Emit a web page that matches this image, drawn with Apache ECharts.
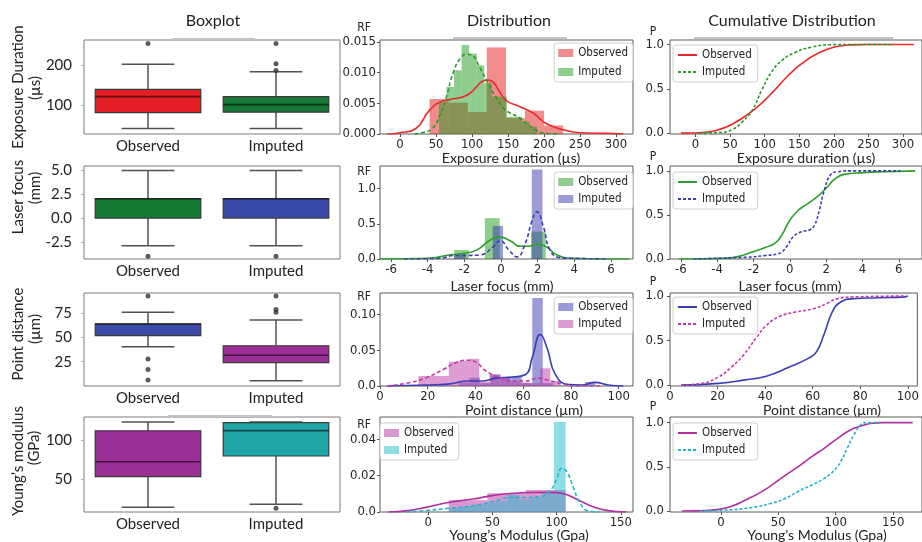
<!DOCTYPE html>
<html>
<head>
<meta charset="utf-8">
<script src="https://cdn.jsdelivr.net/npm/echarts@6/dist/echarts.min.js"></script>
<style>
  html, body { margin: 0; padding: 0; background: #fff; }
  #chart { width: 922px; height: 542px; }
</style>
</head>
<body>
<div id="chart"></div>
<script>
// ---------------- data ----------------
const boxCategories = ['Observed', 'Imputed'];

// Exposure duration (µs)
const expBoxObserved = [41, 81, 121, 139, 202];          // [low whisker, Q1, median, Q3, high whisker]
const expBoxImputed  = [41, 82, 101, 121, 183];
const expOutObserved = [254];
const expOutImputed  = [254, 203, 186];
const expHistObserved = [[41, 67.5, 0.0057], [67.5, 94, 0.0051], [94, 120.5, 0.0036], [120.5, 147, 0.0141],
  [147, 173.5, 0.0026], [173.5, 200, 0.0038], [200, 226.5, 0.0014]];
const expHistImputed = [[54, 64.5, 0.0051], [64.5, 75, 0.0077], [75, 85.5, 0.0104], [85.5, 96, 0.0145],
  [96, 106.5, 0.0131], [106.5, 117, 0.0112], [117, 127.5, 0.0083], [127.5, 138, 0.0061], [138, 148.5, 0.0061],
  [148.5, 159, 0.0028], [159, 169.5, 0.0028], [169.5, 180, 0.0020], [180, 190.5, 0.0012]];
const expKdeObserved = [[-18, 0], [0, 0.0002], [22, 0.0009], [41, 0.0039], [59, 0.0054], [73, 0.0057], [94, 0.0064],
  [122, 0.0088], [129, 0.0085], [147, 0.0055], [166, 0.0045], [185, 0.0034], [203, 0.0017], [227, 0.0007],
  [250, 0.0002], [287, 0.0001], [310, 0]];
const expKdeImputed = [[20, 0], [31, 0.0002], [45, 0.0009], [55, 0.003], [63, 0.0055], [75, 0.0104], [85, 0.0125],
  [92, 0.013], [99, 0.0129], [110, 0.011], [122, 0.0083], [136, 0.0055], [147, 0.0039], [166, 0.0026],
  [185, 0.0009], [203, 0.0001], [222, 0]];
const expCdfObserved = [[-21, 0], [15, 0.01], [34, 0.04], [53, 0.1], [77, 0.22], [96, 0.34], [115, 0.49], [134, 0.65],
  [153, 0.78], [177, 0.9], [201, 0.97], [225, 0.995], [249, 1], [316, 1]];
const expCdfImputed = [[5, 0], [34, 0.005], [53, 0.04], [68, 0.13], [82, 0.26], [96, 0.49], [110, 0.69], [125, 0.82],
  [144, 0.91], [168, 0.97], [196, 0.997], [225, 1], [284, 1]];
const expBoxTicks = [100, 200];
const expXTicks = [0, 50, 100, 150, 200, 250, 300];
const expDistYTicks = [0, 0.005, 0.010, 0.015];

// Laser focus (mm)
const laserBoxObserved = [-2.9, 0, 2.0, 2.05, 5.0];
const laserBoxImputed  = [-2.9, 0, 2.0, 2.05, 5.0];
const laserOutObserved = [-4.0];
const laserOutImputed  = [-4.0];
const laserHistObserved = [[-2.56, -1.75, 0.128], [-0.88, -0.07, 0.58], [1.64, 2.44, 0.39]];
const laserHistImputed  = [[-2.56, -1.93, 0.071], [-0.45, 0.11, 0.47], [1.68, 2.26, 1.27]];
const laserKdeObserved = [[-6.6, 0], [-4, 0.01], [-2.74, 0.06], [-2, 0.08], [-1.3, 0.13], [-0.58, 0.27], [-0.04, 0.31],
  [0.5, 0.26], [1.05, 0.18], [1.5, 0.18], [1.95, 0.21], [2.5, 0.17], [3.03, 0.06], [3.9, 0.01], [5.7, 0], [7.0, 0]];
const laserKdeImputed = [[-5.3, 0], [-3.3, 0.01], [-2.56, 0.05], [-1.93, 0.05], [-1.12, 0.06], [-0.4, 0.18],
  [-0.04, 0.26], [0.42, 0.13], [0.87, 0.03], [1.32, 0.22], [1.68, 0.53], [1.95, 0.67], [2.31, 0.46], [2.67, 0.13],
  [3.2, 0.02], [3.93, 0.01], [5.7, 0]];
const laserCdfObserved = [[-6.1, 0], [-3.5, 0.01], [-2.8, 0.03], [-2.08, 0.08], [-1.35, 0.13], [-0.81, 0.18],
  [-0.45, 0.27], [0, 0.44], [0.45, 0.55], [1.0, 0.63], [1.53, 0.71], [2.08, 0.82], [2.44, 0.9], [2.98, 0.96],
  [4.06, 0.98], [5.1, 0.99], [6.9, 1]];
const laserCdfImputed = [[-5.3, 0], [-2.4, 0.02], [-1.35, 0.04], [-0.63, 0.06], [-0.18, 0.14], [0.18, 0.25],
  [0.63, 0.31], [1.08, 0.33], [1.35, 0.38], [1.62, 0.55], [1.9, 0.78], [2.26, 0.96], [2.62, 0.99], [3.3, 1], [6.1, 1]];
const laserBoxTicks = [-2.5, 0, 2.5, 5];
const laserXTicks = [-6, -4, -2, 0, 2, 4, 6];
const laserDistYTicks = [0, 0.5, 1.0];

// Point distance (µm)
const pointBoxObserved = [40.5, 52, 64, 64, 76];
const pointBoxImputed  = [5.3, 24, 31.6, 41.5, 68];
const pointOutObserved = [93, 27.8, 17, 6];
const pointOutImputed  = [93, 79, 76];
const pointHistObserved = [[33, 37.4, 0.005], [37.4, 41.8, 0.0116], [41.8, 46.2, 0.004], [46.2, 50.6, 0.016],
  [50.6, 55, 0.0125], [55, 59.4, 0.0125], [59.4, 63.8, 0.004], [63.8, 68.2, 0.123], [68.2, 72.6, 0.004],
  [85.8, 90.2, 0.0056]];
const pointHistImputed = [[16.1, 20.35, 0.014], [20.35, 24.6, 0.014], [24.6, 28.85, 0.014], [28.85, 33.1, 0.034],
  [33.1, 37.35, 0.035], [37.35, 41.6, 0.038], [41.6, 45.85, 0.006], [45.85, 50.1, 0.016], [50.1, 54.35, 0.0116],
  [54.35, 58.6, 0.007], [58.6, 62.85, 0.005], [62.85, 67.1, 0.004], [67.1, 71.35, 0.0247], [71.35, 75.6, 0.007]];
const pointKdeObserved = [[3, 0], [19.6, 0.0014], [29.3, 0.003], [36.9, 0.007], [42.6, 0.007], [48.6, 0.011],
  [55.5, 0.0125], [61, 0.016], [63.8, 0.04], [67.2, 0.072], [70, 0.053], [73.5, 0.016], [79, 0.002], [84.5, 0.0014],
  [90, 0.005], [95.6, 0.0014], [102, 0]];
const pointKdeImputed = [[3, 0], [12.7, 0.005], [19.6, 0.012], [26.5, 0.023], [32, 0.033], [36.9, 0.036], [40.3, 0.033],
  [44.4, 0.021], [50, 0.012], [55.5, 0.007], [61, 0.007], [66.5, 0.011], [70.6, 0.008], [76.2, 0.003], [81.7, 0],
  [92.8, 0]];
const pointCdfObserved = [[4.7, 0], [20.3, 0.02], [31, 0.056], [40.5, 0.1], [50, 0.2], [58.1, 0.3], [61.5, 0.37],
  [64.9, 0.58], [68.2, 0.82], [71.6, 0.93], [77, 0.97], [87.8, 0.98], [98.6, 0.99], [100, 1]];
const pointCdfImputed = [[4.7, 0], [13.5, 0.02], [20.3, 0.09], [25.7, 0.2], [31, 0.34], [36.5, 0.54], [40.5, 0.67],
  [46, 0.77], [52.7, 0.82], [60.8, 0.86], [66.2, 0.92], [70.3, 0.97], [77, 0.99], [99.3, 1]];
const pointBoxTicks = [25, 50, 75];
const pointXTicks = [0, 20, 40, 60, 80, 100];
const pointDistYTicks = [0, 0.05, 0.10];

// Young's modulus (GPa)
const youngBoxObserved = [13.7, 53, 72.2, 111.9, 123];
const youngBoxImputed  = [17.6, 79.5, 112, 122.2, 123];
const youngOutObserved = [];
const youngOutImputed  = [12.4];
const youngHistObserved = [[16, 31, 0.0065], [31, 46, 0.0065], [46, 61, 0.0103], [61, 76, 0.0100],
  [76, 91, 0.0121], [91, 107, 0.0121]];
const youngHistImputed = [[16, 25.1, 0.002], [25.1, 34.2, 0.003], [34.2, 43.3, 0.004], [43.3, 52.4, 0.005],
  [52.4, 61.5, 0.006], [61.5, 70.6, 0.0095], [70.6, 79.7, 0.007], [79.7, 88.8, 0.008], [88.8, 97.9, 0.0105],
  [97.9, 107, 0.0495]];
const youngKdeObserved = [[-31, 0], [-17, 0.0006], [0, 0.0028], [15.6, 0.0052], [35, 0.0071], [50, 0.009],
  [66, 0.0103], [82, 0.0107], [97, 0.0108], [108, 0.0095], [118, 0.0062], [129, 0.0028], [139, 0.0009], [154.5, 0]];
const youngKdeImputed = [[-17, 0], [0, 0.0009], [14, 0.0019], [35, 0.0034], [53, 0.0062], [63.6, 0.008], [74, 0.008],
  [87, 0.0084], [95, 0.0118], [100, 0.018], [104, 0.024], [108, 0.022], [113, 0.0136], [118, 0.0052],
  [124.7, 0.0006], [134, 0]];
const youngCdfObserved = [[-34, 0], [-13, 0.004], [-1.4, 0.02], [10, 0.057], [21.4, 0.125], [33, 0.2], [44, 0.29],
  [55.7, 0.4], [67, 0.5], [78.6, 0.61], [90, 0.71], [101.4, 0.82], [113, 0.92], [121.4, 0.96], [130, 0.99],
  [141, 1], [167, 1]];
const youngCdfImputed = [[-18.6, 0], [4.3, 0.01], [27, 0.04], [44, 0.087], [55.7, 0.14], [67, 0.22], [78.6, 0.29],
  [90, 0.37], [98.6, 0.46], [104.3, 0.56], [110, 0.71], [115.7, 0.86], [121.4, 0.97], [127, 1], [138.6, 1]];
const youngBoxTicks = [50, 100];
const youngXTicks = [0, 50, 100, 150];
const youngDistYTicks = [0, 0.02, 0.04];

const cdfYTicks = [0, 0.5, 1.0];

// ---------------- layout & styling ----------------
const UI_FONT = 'Lato, "Open Sans", sans-serif';
const NARROW_FONT = '"Liberation Sans Narrow", "DejaVu Sans Condensed", "Arial Narrow", sans-serif';

const ROWS = [{ top: 40, h: 94 }, { top: 166, h: 93 }, { top: 293, h: 93 }, { top: 417, h: 95 }];
const COLS = [{ left: 84, w: 256 }, { left: 380, w: 253 }, { left: 670, w: 256 }];

const fix = d => v => (v === 0 ? (d === 3 ? '0.000' : '0.0') : v.toFixed(d));

const PANELS = [
  {
    key: 'exp', xName: 'Exposure duration (µs)', yName: ['Exposure Duration', '(µs)'], yNameY: [87, 88], yNameX: [18, 35],
    box: [expBoxObserved, expBoxImputed], out: [expOutObserved, expOutImputed], boxRange: [27.5, 262.5],
    boxTicks: expBoxTicks, boxFmt: v => String(v), boxColors: ['#e31e24', '#167a36'],
    hist: [expHistObserved, expHistImputed], kde: [expKdeObserved, expKdeImputed], cdf: [expCdfObserved, expCdfImputed],
    distX: [-27.9, 323.6], distY: [0, 0.01533], distYTicks: expDistYTicks, distYFmt: fix(3), xTicks: expXTicks,
    cdfX: [-37, 327.5], cdfY: [-0.01, 1.05],
    line: ['#e8282a', '#2a9a2a'], bar: ['rgba(228,26,28,0.5)', 'rgba(30,155,30,0.5)'],
    distLegend: { right: 289, top: 43, gap: 5 }, cdfLegend: { top: 45, gap: 3 },
    rfY: 28, pY: 32, xNameY: 158, xNameX: [511, 806]
  },
  {
    key: 'laser', xName: 'Laser focus (mm)', yName: ['Laser focus', '(mm)'], yNameY: [197, 188], yNameX: [18, 35],
    box: [laserBoxObserved, laserBoxImputed], out: [laserOutObserved, laserOutImputed], boxRange: [-4.3, 5.46],
    boxTicks: laserBoxTicks, boxFmt: v => v.toFixed(1), boxColors: ['#167a36', '#3b4aa8'],
    hist: [laserHistObserved, laserHistImputed], kde: [laserKdeObserved, laserKdeImputed], cdf: [laserCdfObserved, laserCdfImputed],
    distX: [-6.6, 7.2], distY: [0, 1.32], distYTicks: laserDistYTicks, distYFmt: fix(1), xTicks: laserXTicks,
    cdfX: [-6.6, 7.28], cdfY: [0, 1.055],
    line: ['#2ca02c', '#3a3db5'], bar: ['rgba(30,155,30,0.5)', 'rgba(55,55,175,0.5)'],
    distLegend: { right: 289, top: 172, gap: 3 }, cdfLegend: { top: 172, gap: 3 },
    rfY: 172, pY: 157, xNameY: 286, xNameX: [502, 790]
  },
  {
    key: 'point', xName: 'Point distance (µm)', yName: ['Point distance', '(µm)'], yNameY: [334, 329], yNameX: [18, 35],
    box: [pointBoxObserved, pointBoxImputed], out: [pointOutObserved, pointOutImputed], boxRange: [-0.1, 96],
    boxTicks: pointBoxTicks, boxFmt: v => String(v), boxColors: ['#3b4aa8', '#9b2f96'],
    hist: [pointHistObserved, pointHistImputed], kde: [pointKdeObserved, pointKdeImputed], cdf: [pointCdfObserved, pointCdfImputed],
    distX: [0, 106], distY: [0, 0.13], distYTicks: pointDistYTicks, distYFmt: fix(2), xTicks: pointXTicks,
    cdfX: [0, 104], cdfY: [-0.01, 1.034],
    line: ['#3a3db5', '#c23aa8'], bar: ['rgba(55,55,175,0.5)', 'rgba(190,60,165,0.5)'],
    distLegend: { right: 289, top: 297, gap: 3 }, cdfLegend: { top: 297, gap: 3 },
    rfY: 297, pY: 282, xNameY: 410, xNameX: [524, 822]
  },
  {
    key: 'young', xName: 'Young\u2019s Modulus (Gpa)', yName: ['Young\u2019s modulus', '(GPa)'], yNameY: [461, 448], yNameX: [18, 34],
    box: [youngBoxObserved, youngBoxImputed], out: [youngOutObserved, youngOutImputed], boxRange: [7.7, 129.5],
    boxTicks: youngBoxTicks, boxFmt: v => String(v), boxColors: ['#9b2f96', '#20a6a6'],
    hist: [youngHistObserved, youngHistImputed], kde: [youngKdeObserved, youngKdeImputed], cdf: [youngCdfObserved, youngCdfImputed],
    distX: [-37.6, 159.5], distY: [0, 0.0522], distYTicks: youngDistYTicks, distYFmt: fix(2), xTicks: youngXTicks,
    cdfX: [-44.3, 175.1], cdfY: [-0.011, 1.064],
    line: ['#b0309f', '#1fb5c8'], bar: ['rgba(180,50,160,0.5)', 'rgba(30,190,205,0.5)'],
    distLegend: { left: 380, top: 423, gap: 3 }, cdfLegend: { top: 423, gap: 3 },
    rfY: 425, pY: 407, xNameY: 535, xNameX: [519, 817]
  }
];

// ---------------- renderers ----------------
function renderBox(params, api) {
  const idx = api.value(0);
  const band = api.size([1, 0])[0];
  const bw = band * 0.825, cw = bw * 0.5;
  const pLo = api.coord([idx, api.value(1)]);
  const pQ1 = api.coord([idx, api.value(2)]);
  const pMed = api.coord([idx, api.value(3)]);
  const pQ3 = api.coord([idx, api.value(4)]);
  const pHi = api.coord([idx, api.value(5)]);
  const x = pQ1[0];
  const wStyle = { stroke: '#505050', lineWidth: 1.5 };
  return {
    type: 'group',
    children: [
      { type: 'line', shape: { x1: x, y1: pHi[1], x2: x, y2: pQ3[1] }, style: wStyle },
      { type: 'line', shape: { x1: x, y1: pQ1[1], x2: x, y2: pLo[1] }, style: wStyle },
      { type: 'line', shape: { x1: x - cw / 2, y1: pHi[1], x2: x + cw / 2, y2: pHi[1] }, style: wStyle },
      { type: 'line', shape: { x1: x - cw / 2, y1: pLo[1], x2: x + cw / 2, y2: pLo[1] }, style: wStyle },
      { type: 'rect', shape: { x: x - bw / 2, y: pQ3[1], width: bw, height: pQ1[1] - pQ3[1] },
        style: { fill: api.visual('color'), stroke: '#3a3a3a', lineWidth: 1.2 } },
      { type: 'line', shape: { x1: x - bw / 2, y1: pMed[1], x2: x + bw / 2, y2: pMed[1] },
        style: { stroke: 'rgba(0,0,0,0.55)', lineWidth: 1.6 } }
    ]
  };
}

function renderHist(params, api) {
  const a = api.coord([api.value(0), api.value(2)]);
  const b = api.coord([api.value(1), 0]);
  return {
    type: 'rect',
    shape: { x: a[0], y: a[1], width: b[0] - a[0], height: b[1] - a[1] },
    style: { fill: api.visual('color') }
  };
}

// ---------------- option assembly ----------------
const grid = [], xAxis = [], yAxis = [], series = [], legend = [], graphic = [];

const tickLabel = { fontFamily: NARROW_FONT, fontSize: 13, color: '#262626' };

function valueAxis(gi, range, ticks, fmt, extra) {
  return Object.assign({
    type: 'value', gridIndex: gi, min: range[0], max: range[1],
    splitLine: { show: false }, axisLine: { show: false, onZero: false },
    axisTick: { show: true, length: 3, inside: false, customValues: ticks, lineStyle: { color: '#555' } },
    axisLabel: Object.assign({ customValues: ticks, formatter: fmt, margin: 4 }, tickLabel)
  }, extra || {});
}

const nameOf = n => n.split('-').pop();

PANELS.forEach((p, r) => {
  const row = ROWS[r];
  COLS.forEach((c, k) => {
    grid.push({
      left: c.left, top: row.top, width: c.w, height: row.h,
      show: true, borderColor: k === 0 ? '#7a7a7a' : '#5a5a5a', borderWidth: 1, backgroundColor: 'transparent'
    });
  });
  const gBox = r * 3, gDist = r * 3 + 1, gCdf = r * 3 + 2;

  // ---- boxplot panel
  xAxis.push({
    type: 'category', gridIndex: gBox, data: boxCategories, boundaryGap: true,
    axisLine: { show: false, onZero: false }, axisTick: { show: false }, splitLine: { show: false },
    axisLabel: { fontFamily: UI_FONT, fontSize: 15, color: '#222', margin: 5 }
  });
  yAxis.push(valueAxis(gBox, p.boxRange, p.boxTicks, p.boxFmt, {
    axisTick: { show: true, length: 3, customValues: p.boxTicks, lineStyle: { color: '#aaa' } },
    axisLabel: { customValues: p.boxTicks, formatter: p.boxFmt, margin: 12, fontFamily: UI_FONT, fontSize: 15, color: '#222' }
  }));
  series.push({
    type: 'custom', xAxisIndex: gBox, yAxisIndex: gBox, renderItem: renderBox, z: 2,
    encode: { x: 0, y: [1, 2, 3, 4, 5] },
    data: p.box.map((b, i) => ({ value: [i].concat(b), itemStyle: { color: p.boxColors[i] } }))
  });
  const outliers = [];
  p.out.forEach((list, i) => list.forEach(v => outliers.push([i, v])));
  series.push({
    type: 'scatter', xAxisIndex: gBox, yAxisIndex: gBox, data: outliers, symbolSize: 5, z: 3,
    itemStyle: { color: '#333' }, silent: true
  });

  // ---- distribution panel
  xAxis.push(valueAxis(gDist, p.distX, p.xTicks, v => String(v)));
  yAxis.push(valueAxis(gDist, p.distY, p.distYTicks, p.distYFmt));
  const distNames = [p.key + '-dist-Observed', p.key + '-dist-Imputed'];
  [0, 1].forEach(i => {
    series.push({
      type: 'custom', name: distNames[i], xAxisIndex: gDist, yAxisIndex: gDist, renderItem: renderHist,
      encode: { x: [0, 1], y: 2 }, itemStyle: { color: p.bar[i] }, data: p.hist[i], z: 2 + i, clip: true
    });
  });
  [0, 1].forEach(i => {
    series.push({
      type: 'line', xAxisIndex: gDist, yAxisIndex: gDist, data: p.kde[i], smooth: 0.5,
      symbol: 'none', z: 5, clip: true,
      lineStyle: { color: p.line[i], width: 1.6, type: i === 0 ? 'solid' : [4, 2.5] }
    });
  });
  legend.push(Object.assign({
    orient: 'vertical', padding: [3, 5, 3, 4], itemGap: p.distLegend.gap, itemWidth: 15, itemHeight: 8,
    backgroundColor: 'rgba(255,255,255,0.85)', borderColor: '#cfcfcf', borderWidth: 1, borderRadius: 3,
    selectedMode: false, formatter: nameOf,
    textStyle: { fontFamily: NARROW_FONT, fontSize: 11.5, color: '#222', lineHeight: 14 },
    data: distNames.map((n, i) => ({ name: n, icon: 'rect', itemStyle: { color: p.bar[i], borderWidth: 0 } }))
  }, p.distLegend.right !== undefined ? { right: p.distLegend.right } : { left: p.distLegend.left }, { top: p.distLegend.top }));

  // ---- cumulative panel
  xAxis.push(valueAxis(gCdf, p.cdfX, p.xTicks, v => String(v)));
  yAxis.push(valueAxis(gCdf, p.cdfY, cdfYTicks, fix(1), {
    axisLabel: Object.assign({ customValues: cdfYTicks, formatter: fix(1), margin: 6 }, tickLabel)
  }));
  const cdfNames = [p.key + '-cdf-Observed', p.key + '-cdf-Imputed'];
  [0, 1].forEach(i => {
    series.push({
      type: 'line', name: cdfNames[i], xAxisIndex: gCdf, yAxisIndex: gCdf, data: p.cdf[i], smooth: 0.5,
      symbol: 'none', z: 4 + i, clip: true,
      itemStyle: { color: p.line[i] },
      lineStyle: { color: p.line[i], width: 1.6, type: i === 0 ? 'solid' : [3, 2] }
    });
  });
  legend.push({
    orient: 'vertical', left: 673, top: p.cdfLegend.top, padding: [3, 6, 3, 4], itemGap: p.cdfLegend.gap,
    itemWidth: 19, itemHeight: 14,
    backgroundColor: 'rgba(255,255,255,0.85)', borderColor: '#cfcfcf', borderWidth: 1, borderRadius: 3,
    selectedMode: false, formatter: nameOf,
    textStyle: { fontFamily: NARROW_FONT, fontSize: 11.5, color: '#222', lineHeight: 14 },
    // line-only key: the marker dot is made fully transparent
    data: cdfNames.map(n => ({ name: n, itemStyle: { opacity: 0 } }))
  });

  // ---- axis titles
  graphic.push(
    { type: 'text', x: p.yNameX[0], y: p.yNameY[0], rotation: Math.PI / 2,
      style: { text: p.yName[0], font: '15px ' + UI_FONT, fill: '#222', textAlign: 'center', textVerticalAlign: 'middle' } },
    { type: 'text', x: p.yNameX[1], y: p.yNameY[1], rotation: Math.PI / 2,
      style: { text: p.yName[1], font: '15px ' + UI_FONT, fill: '#222', textAlign: 'center', textVerticalAlign: 'middle' } },
    { type: 'text', x: 364, y: p.rfY,
      style: { text: 'RF', font: '12px ' + NARROW_FONT, fill: '#222', textAlign: 'center', textVerticalAlign: 'middle' } },
    { type: 'text', x: 653, y: p.pY,
      style: { text: 'P', font: '12px ' + NARROW_FONT, fill: '#222', textAlign: 'center', textVerticalAlign: 'middle' } },
    { type: 'text', x: p.xNameX[0], y: p.xNameY,
      style: { text: p.xName, font: '14px ' + UI_FONT, fill: '#222', textAlign: 'center', textVerticalAlign: 'middle' } },
    { type: 'text', x: p.xNameX[1], y: p.xNameY,
      style: { text: p.xName, font: '14px ' + UI_FONT, fill: '#222', textAlign: 'center', textVerticalAlign: 'middle' } }
  );
});

// column headings and the light rules beneath them
[['Boxplot', 213], ['Distribution', 509], ['Cumulative Distribution', 792]].forEach(([t, x]) => {
  graphic.push({ type: 'text', x: x, y: 21,
    style: { text: t, font: '16px ' + UI_FONT, fill: '#222', textAlign: 'center', textVerticalAlign: 'middle' } });
});
[[172, 255, 39], [453, 567, 38], [694, 893, 38], [168, 272, 416]].forEach(([x1, x2, y]) => {
  graphic.push({ type: 'line', shape: { x1: x1, y1: y, x2: x2, y2: y }, style: { stroke: '#c4c4c4', lineWidth: 2 }, z: 10 });
});

const chart = echarts.init(document.getElementById('chart'));
chart.setOption({
  animation: false,
  backgroundColor: '#fff',
  grid, xAxis, yAxis, series, legend, graphic
});
</script>
</body>
</html>
